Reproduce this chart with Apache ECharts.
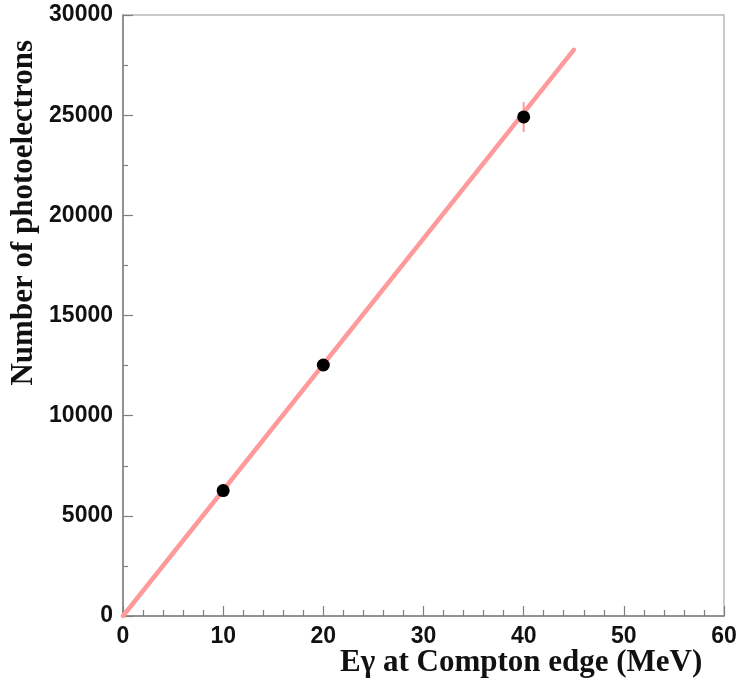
<!DOCTYPE html>
<html>
<head>
<meta charset="utf-8">
<title>Photoelectrons vs Compton edge energy</title>
<script src="https://cdn.jsdelivr.net/npm/echarts@6/dist/echarts.min.js"></script>
<style>
  html, body { margin: 0; padding: 0; background: #ffffff; }
  #chart { width: 741px; height: 684px; }
</style>
</head>
<body>
<div id="chart"></div>
<script>
// Measured points: gamma energy at the Compton edge (MeV) and photoelectron yield
const energies = [10, 20, 40];
const photoelectrons = [6260, 12530, 24910];
const errors = [150, 250, 750];

// Straight-line fit through the origin
const fitX = [0, 45];
const fitY = [0, 28260];

// Axis ranges and tick steps
const xRange = [0, 60];
const xStep = 10;
const yRange = [0, 30000];
const yStep = 5000;

const xTitle = 'Eγ at Compton edge (MeV)';
const yTitle = 'Number of photoelectrons';

const chart = echarts.init(document.getElementById('chart'), null, { renderer: 'canvas' });

const tickFont = {
  fontFamily: 'Liberation Sans', fontWeight: 'bold', fontSize: 23, color: '#111111',
  formatter: function (v) { return String(v); }
};
const axisGrey = '#7f7f7f';

const errorData = energies.map((e, i) => [e, photoelectrons[i] - errors[i], photoelectrons[i] + errors[i]]);
const pointData = energies.map((e, i) => [e, photoelectrons[i]]);
const fitData = fitX.map((x, i) => [x, fitY[i]]);

chart.setOption({
  animation: false,
  backgroundColor: '#ffffff',
  grid: {
    left: 123, right: 17, top: 15, bottom: 68,
    show: true, borderColor: '#b8b8b8', borderWidth: 1.5, backgroundColor: 'transparent'
  },
  xAxis: {
    type: 'value', min: xRange[0], max: xRange[1], interval: xStep,
    axisLine: { show: true, onZero: false, lineStyle: { color: axisGrey, width: 1.5 } },
    axisTick: { show: true, inside: true, length: 10, lineStyle: { color: axisGrey, width: 1.2 } },
    minorTick: { show: true, splitNumber: 5, length: 6, lineStyle: { color: axisGrey, width: 1.2 } },
    splitLine: { show: false },
    axisLabel: Object.assign({ margin: 9 }, tickFont)
  },
  yAxis: {
    type: 'value', min: yRange[0], max: yRange[1], interval: yStep,
    axisLine: { show: true, onZero: false, lineStyle: { color: axisGrey, width: 1.5 } },
    axisTick: { show: true, inside: true, length: 10, lineStyle: { color: axisGrey, width: 1.2 } },
    minorTick: { show: true, splitNumber: 2, length: 5, lineStyle: { color: axisGrey, width: 1.2 } },
    splitLine: { show: false },
    axisLabel: Object.assign({ margin: 10 }, tickFont)
  },
  graphic: [
    {
      type: 'text', x: 24, y: 40, rotation: Math.PI / 2,
      style: {
        text: yTitle, textAlign: 'right', textVerticalAlign: 'middle',
        font: 'bold 31px "Liberation Serif"', fill: '#111111'
      }
    },
    {
      type: 'text', x: 340, y: 663,
      style: {
        text: xTitle, textAlign: 'left', textVerticalAlign: 'middle',
        font: 'bold 31px "Liberation Serif"', fill: '#111111'
      }
    }
  ],
  series: [
    {
      type: 'line', data: fitData, showSymbol: false, symbol: 'none',
      lineStyle: { color: '#ff9a9a', width: 4.5, cap: 'round' }, z: 2
    },
    {
      type: 'custom', data: errorData, z: 3,
      renderItem: function (params, api) {
        const top = api.coord([api.value(0), api.value(2)]);
        const bot = api.coord([api.value(0), api.value(1)]);
        return {
          type: 'line',
          shape: { x1: top[0], y1: top[1], x2: bot[0], y2: bot[1] },
          style: { stroke: '#ff9a9a', lineWidth: 2 }
        };
      }
    },
    {
      type: 'scatter', data: pointData, symbol: 'circle', symbolSize: 13,
      itemStyle: { color: '#000000', opacity: 1 }, z: 4
    }
  ]
});
</script>
</body>
</html>
